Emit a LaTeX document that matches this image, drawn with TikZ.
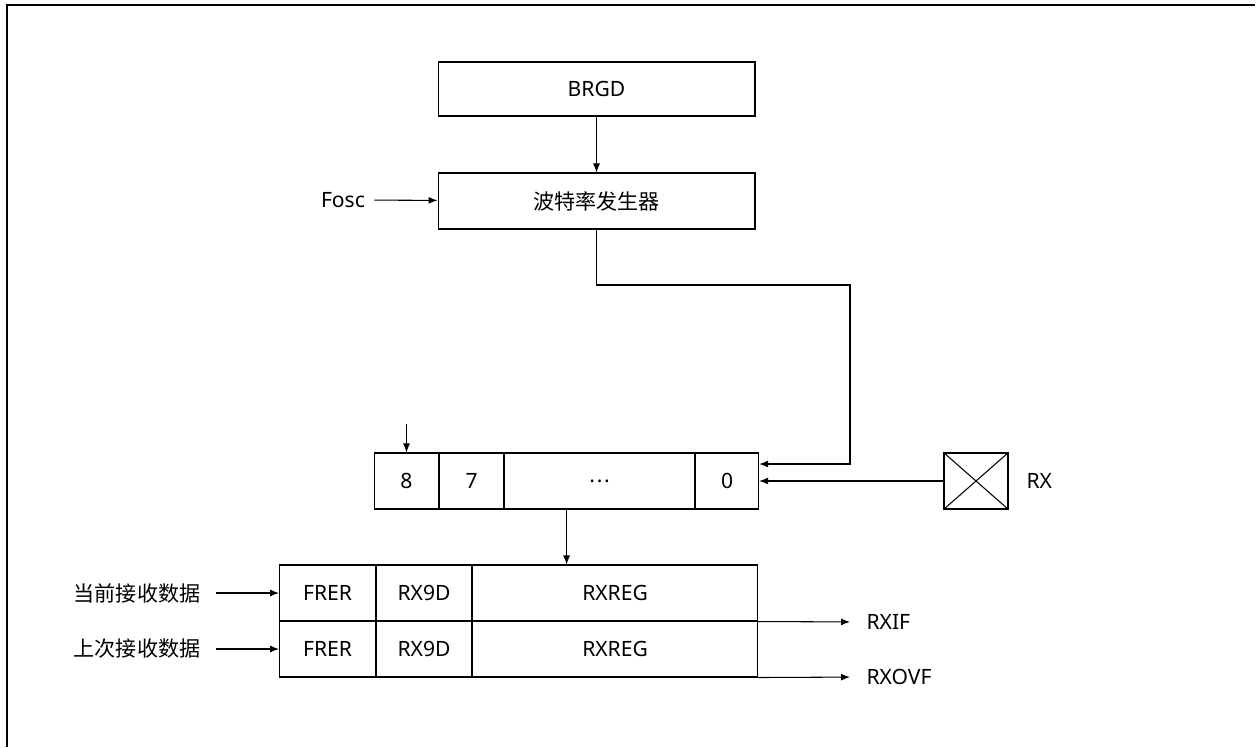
\documentclass[tikz,border=0pt]{standalone}
\usepackage{fontspec}
\setmainfont{Noto Sans}
\newfontfamily\cjk{Noto Sans CJK SC}
\usetikzlibrary{arrows.meta,positioning}

\tikzset{
    cell/.style={draw, line width=0.6pt, minimum height=1.12cm, inner sep=0pt, anchor=west},
    block/.style={draw, line width=0.6pt, minimum width=6.34cm, inner sep=0pt},
    label/.style={inner sep=0pt},
    every node/.style={font=\fontsize{12pt}{14pt}\selectfont},
}

\begin{document}
\begin{tikzpicture}[x=0.02cm, y=-0.02cm, line width=0.6pt, >={Latex[length=0.18cm,width=0.14cm]}]
    \useasboundingbox (0,0) rectangle (1260,747);
    % frame
    \draw[line width=0.8pt] (7,747) -- (7,5) -- (1255,5);

    % clock part
    \node[block, minimum height=1.08cm] (brgd) at (596.5,89) {BRGD};
    \node[block, minimum height=1.12cm] (gen) at (596.5,201) {\cjk 波特率发生器};
    \node[label] (fosc) at (343,200) {Fosc};

    % shift register
    \node[cell, minimum width=1.28cm] (r8) at (374,481) {8};
    \node[cell, minimum width=1.28cm] (r7) at (r8.east) {7};
    \node[cell, minimum width=3.80cm] (rdots) at (r7.east) {.\kern1pt.\kern1pt.};
    \node[cell, minimum width=1.26cm] (r0) at (rdots.east) {0};
    \coordinate (load) at (406.5,424);

    % RX pin
    \node[draw, minimum width=1.28cm, minimum height=1.12cm, inner sep=0pt] (rxpad) at (976,481) {};
    \draw (rxpad.north west) -- (rxpad.south east);
    \draw (rxpad.south west) -- (rxpad.north east);
    \node[label, anchor=west] (rx) at (1026,481) {RX};

    % receive buffers
    \node[cell, minimum width=1.92cm] (frer1) at (279,593) {FRER};
    \node[cell, minimum width=1.90cm] (rx9d1) at (frer1.east) {RX9D};
    \node[cell, minimum width=5.70cm] (rxreg1) at (rx9d1.east) {RXREG};
    \node[cell, minimum width=1.92cm] (frer2) at (279,649) {FRER};
    \node[cell, minimum width=1.90cm] (rx9d2) at (frer2.east) {RX9D};
    \node[cell, minimum width=5.70cm] (rxreg2) at (rx9d2.east) {RXREG};

    \node[label] (cur) at (137,593) {\cjk 当前接收数据};
    \node[label] (prev) at (137,649) {\cjk 上次接收数据};
    \node[label, anchor=west] (rxif) at (866,622) {RXIF};
    \node[label, anchor=west] (rxovf) at (866,677) {RXOVF};

    % connections
    \draw[->] (brgd) -- (gen);
    \draw[->, shorten <=0.18cm] (fosc) -- (gen);
    \coordinate (turn) at (850,285);
    \draw[->] (gen.south) |- (turn) |- ([yshift=0.34cm]r0.east);
    \draw[->] (rxpad.west) -- (r0.east);
    \draw[->] (load) -- (load |- r8.north);
    \draw[->] ([xshift=-0.66cm]rdots.south) -- ([xshift=-0.66cm]rdots.south |- rxreg1.north);

    \draw[->, shorten <=0.30cm] (cur) -- (frer1);
    \draw[->, shorten <=0.30cm] (prev) -- (frer2);
    \draw[->, shorten >=0.32cm] (rxreg1.south east) -- (rxif.west);
    \draw[->, shorten >=0.32cm] (rxreg2.south east) -- (rxovf.west);
\end{tikzpicture}
\end{document}
